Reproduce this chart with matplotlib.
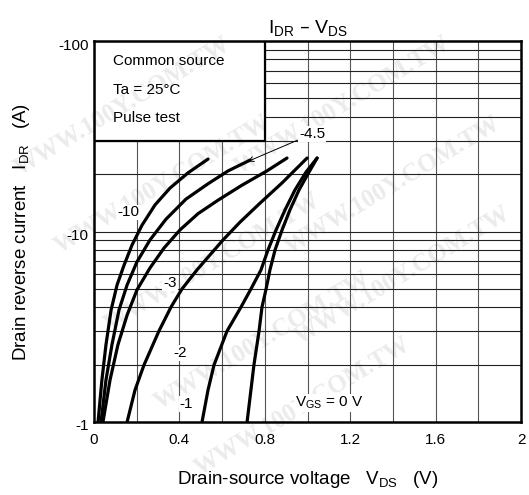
import numpy as np
import matplotlib
matplotlib.use("Agg")
import matplotlib.pyplot as plt
from matplotlib.patches import Rectangle
from matplotlib.transforms import ScaledTranslation

plt.rcParams['font.family'] = ['Liberation Sans', 'DejaVu Sans']
plt.rcParams['mathtext.default'] = 'regular'

# Drain reverse current curves, I_DR (A) against V_DS (V), for each V_GS
vgs_labels = ["-10", "-4.5", "-3", "-2", "-1", "0"]

vds_m10 = [0.019, 0.037, 0.056, 0.080, 0.108, 0.141, 0.178, 0.225, 0.286, 0.356, 0.440, 0.534]
idr_m10 = [-1.0, -1.66, -2.54, -3.87, -5.24, -6.67, -8.49, -10.8, -13.8, -16.9, -20.3, -24.0]

vds_m45 = [0.033, 0.056, 0.084, 0.117, 0.155, 0.201, 0.262, 0.337, 0.431, 0.534, 0.628, 0.731]
idr_m45 = [-1.0, -1.66, -2.54, -3.87, -5.24, -6.92, -9.02, -11.6, -14.8, -17.8, -20.8, -23.7]

vds_m3 = [0.042, 0.075, 0.112, 0.155, 0.201, 0.262, 0.328, 0.403, 0.487, 0.581, 0.693, 0.810, 0.904]
idr_m3 = [-1.0, -1.66, -2.54, -3.64, -4.93, -6.43, -8.19, -10.2, -12.4, -14.6, -17.5, -20.8, -24.3]

vds_m2 = [0.155, 0.192, 0.234, 0.304, 0.361, 0.412, 0.482, 0.543, 0.604, 0.684, 0.778, 0.881, 0.998]
idr_m2 = [-1.0, -1.47, -1.99, -3.0, -4.02, -4.99, -6.28, -7.53, -9.02, -11.2, -14.1, -18.0, -24.3]

vds_m1 = [0.506, 0.534, 0.562, 0.623, 0.689, 0.735, 0.782, 0.815, 0.853, 0.895, 0.941, 0.993, 1.045]
idr_m1 = [-1.0, -1.47, -1.99, -3.0, -4.02, -4.99, -6.28, -8.0, -10.2, -13.0, -16.5, -20.5, -24.3]

vds_0 = [0.717, 0.735, 0.749, 0.773, 0.787, 0.806, 0.824, 0.848, 0.881, 0.918, 0.960, 1.007, 1.045]
idr_0 = [-1.0, -1.47, -1.99, -3.0, -4.02, -4.99, -6.28, -8.0, -10.2, -13.0, -16.5, -20.5, -24.3]

x_ticks = [0, 0.4, 0.8, 1.2, 1.6, 2]
x_tick_labels = ["0", "0.4", "0.8", "1.2", "1.6", "2"]
y_ticks = [1, 10, 100]
y_tick_labels = ["-1", "-10", "-100"]

fig = plt.figure(figsize=(5.29, 4.95), dpi=100)
fig.patch.set_facecolor('white')
ax = fig.add_axes([94 / 529, 73 / 495, 427 / 529, 381 / 495])
ax.set_facecolor('none')
ax.set_xlim(0, 2)
ax.set_yscale('log')
ax.set_ylim(1, 100)

# faint diagonal watermark (start points in pixels from the top-left corner)
wm_starts = [(20, 176), (60, 254), (110, 332), (160, 410), (200, 476),
             (240, 175), (290, 255), (300, 345)]
for px, py in wm_starts:
    ax.text(px / 529, 1 - py / 495, "WWW.100Y.COM.TW", transform=fig.transFigure,
            rotation=31, rotation_mode='anchor', fontsize=18, fontweight='bold',
            family='Liberation Serif', color='#ebebeb', zorder=0.5, clip_on=False)

# grid, kept out of the note box in the upper left corner
box_x, box_y = 0.8, 30
xg = np.arange(0.2, 2.0, 0.2)
for xv in xg:
    top = box_y if xv < box_x - 1e-9 else 100
    ax.vlines(xv, 1, top, color='#555555', lw=0.8, zorder=1)
yg = [m * d for d in (1, 10) for m in range(2, 10)] + [10]
for yv in yg:
    left = box_x if yv > box_y + 1e-9 else 0
    ax.hlines(yv, left, 2, color='#222222', lw=0.8, zorder=1)

ax.add_patch(Rectangle((0, box_y), box_x, 100 - box_y, facecolor='none',
                       edgecolor='black', lw=1.6, zorder=2))
note_kw = dict(transform=ax.transAxes, fontsize=11, va='center', ha='left', zorder=4)
ax.text(0.045, 0.9475, "Common source", **note_kw)
ax.text(0.045, 0.871, "Ta = 25°C", **note_kw)
ax.text(0.045, 0.798, "Pulse test", **note_kw)

series = [(vds_m10, idr_m10), (vds_m45, idr_m45), (vds_m3, idr_m3),
          (vds_m2, idr_m2), (vds_m1, idr_m1), (vds_0, idr_0)]
for vds, idr in series:
    ax.plot(vds, -np.asarray(idr), color='black', lw=2.3, solid_capstyle='round',
            solid_joinstyle='round', zorder=3)

lab_kw = dict(fontsize=11, ha='center', va='center', zorder=4,
              bbox=dict(facecolor='white', edgecolor='none', pad=0.5))
ax.text(0.160, 12.6, vgs_labels[0], **lab_kw)
ax.text(0.356, 5.37, vgs_labels[2], **lab_kw)
ax.text(0.403, 2.30, vgs_labels[3], **lab_kw)
ax.text(0.431, 1.24, vgs_labels[4], **lab_kw)
ax.text(0.94, 1.26, r"V$_{GS}$ = " + vgs_labels[5] + " V", fontsize=11, ha='left',
        va='center', zorder=4, bbox=dict(facecolor='white', edgecolor='none', pad=0.5))
ax.annotate(vgs_labels[1], xy=(0.72, 23.3), xytext=(0.96, 32.5),
            fontsize=11, ha='left', va='center', zorder=4,
            bbox=dict(facecolor='white', edgecolor='none', pad=0.5),
            arrowprops=dict(arrowstyle='->', color='black', lw=0.7,
                            shrinkA=0, shrinkB=0, mutation_scale=9))

ax.set_xticks(x_ticks)
ax.set_xticklabels(x_tick_labels)
ax.set_yticks(y_ticks)
ax.set_yticklabels(y_tick_labels)
ax.yaxis.set_minor_locator(matplotlib.ticker.NullLocator())
ax.tick_params(length=0, labelsize=11)
ax.tick_params(axis='x', pad=8)
ax.tick_params(axis='y', pad=4)
shift = ScaledTranslation(0, -3 / 100, fig.dpi_scale_trans)
for lab in ax.get_yticklabels():
    lab.set_transform(lab.get_transform() + shift)

for sp in ax.spines.values():
    sp.set_linewidth(1.8)
    sp.set_zorder(2.5)

ax.set_title(r"I$_{DR}$ – V$_{DS}$", fontsize=14, pad=6)
ax.set_xlabel(r"Drain-source voltage   V$_{DS}$   (V)", fontsize=13.5, va='center')
ax.xaxis.set_label_coords(0.5, -0.152)
ax.set_ylabel(r"Drain reverse current   I$_{DR}$   (A)", fontsize=13.5, va='center')
ax.yaxis.set_label_coords(-0.169, 0.5)

fig.savefig("out.png", dpi=100, facecolor='white')
